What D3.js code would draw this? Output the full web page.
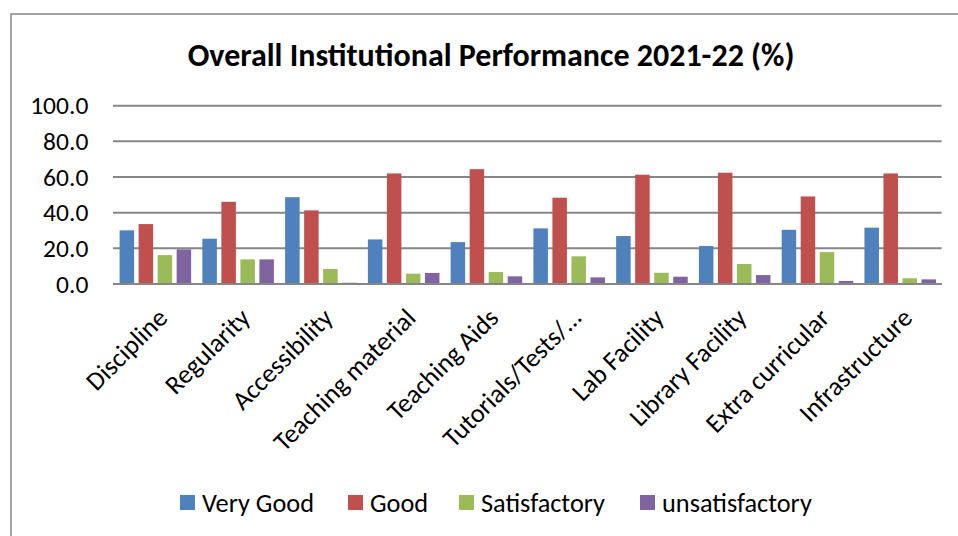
<!DOCTYPE html>
<html lang="en">
<head>
<meta charset="UTF-8">
<title>Overall Institutional Performance 2021-22</title>
<script src="https://d3js.org/d3.v7.min.js"></script>
<style>
    body { margin: 0; background: #fff; }
    svg { display: block; font-family: Carlito, Lato, sans-serif; }
</style>
</head>
<body>
<svg id="chart" width="958" height="536"></svg>
<script>
    const categories = ["Discipline", "Regularity", "Accessibility", "Teaching material", "Teaching Aids",
        "Tutorials/Tests/\u2026", "Lab Facility", "Library Facility", "Extra curricular", "Infrastructure"];
    const seriesNames = ["Very Good", "Good", "Satisfactory", "unsatisfactory"];
    const veryGood = [30.1, 25.4, 48.7, 25.0, 23.5, 31.2, 26.9, 21.3, 30.4, 31.6];
    const good = [33.6, 46.1, 41.3, 62.0, 64.4, 48.4, 61.3, 62.4, 49.1, 62.0];
    const satisfactory = [16.2, 13.8, 8.4, 5.8, 6.7, 15.5, 6.3, 11.2, 17.9, 3.2];
    const unsatisfactory = [19.4, 13.8, 0.7, 6.2, 4.3, 3.7, 4.1, 5.0, 1.7, 2.6];
    const yTicks = [0, 20, 40, 60, 80, 100];
    const colors = ["#4F81BD", "#C0504D", "#9BBB59", "#8064A2"];

    const seriesValues = [veryGood, good, satisfactory, unsatisfactory];
    const rows = categories.map((c, i) => ({
        cat: c,
        vals: seriesNames.map((s, j) => ({ series: s, value: seriesValues[j][i] }))
    }));

    const svg = d3.select("#chart");
    const plot = { left: 114, right: 941.6, top: 105.7, bottom: 284 };
    const labelSize = 25.5;
    const catSize = 26.3;

    // outer frame (runs off the right and bottom edge)
    svg.append("rect")
        .attr("x", 11).attr("y", 14)
        .attr("width", 1000).attr("height", 600)
        .attr("fill", "none")
        .attr("stroke", "#868686")
        .attr("stroke-width", 1.5);

    svg.append("text")
        .attr("x", 491).attr("y", 66)
        .attr("text-anchor", "middle")
        .attr("font-size", 32)
        .attr("font-weight", "bold")
        .text("Overall Institutional Performance 2021-22 (%)");

    const x0 = d3.scaleBand()
        .domain(categories)
        .range([plot.left, plot.right]);

    const x1 = d3.scaleBand()
        .domain(seriesNames)
        .range([5.6, x0.bandwidth() - 5.6])
        .paddingInner(0.237);

    const y = d3.scaleLinear()
        .domain([0, 100])
        .range([plot.bottom, plot.top]);

    // gridlines
    svg.append("g")
        .selectAll("line")
        .data(yTicks)
        .join("line")
        .attr("x1", plot.left - 1).attr("x2", plot.right)
        .attr("y1", d => y(d)).attr("y2", d => y(d))
        .attr("stroke", "#868686")
        .attr("stroke-width", 2);

    // y axis labels
    const yAxis = svg.append("g")
        .attr("transform", `translate(${plot.left},0)`)
        .call(d3.axisLeft(y).tickValues(yTicks).tickFormat(d3.format(".1f")).tickSize(0).tickPadding(25.7));
    yAxis.select(".domain").remove();
    yAxis.selectAll("text")
        .attr("font-size", labelSize)
        .attr("font-family", "Carlito, Lato, sans-serif")
        .attr("fill", "#000");

    // bars
    const groups = svg.append("g")
        .selectAll("g")
        .data(rows)
        .join("g")
        .attr("transform", d => `translate(${x0(d.cat)},0)`);

    groups.selectAll("rect")
        .data(d => d.vals)
        .join("rect")
        .attr("x", d => x1(d.series))
        .attr("y", d => y(d.value))
        .attr("width", x1.bandwidth())
        .attr("height", d => y(0) - y(d.value))
        .attr("fill", (d, i) => colors[i]);

    // baseline on top
    svg.append("line")
        .attr("x1", plot.left - 1).attr("x2", plot.right)
        .attr("y1", y(0)).attr("y2", y(0))
        .attr("stroke", "#868686")
        .attr("stroke-width", 2);

    // category labels
    svg.append("g")
        .selectAll("text")
        .data(categories)
        .join("text")
        .attr("transform", d => `translate(${x0(d) + x0.bandwidth() / 2 + 7},${plot.bottom + 29}) rotate(-45)`)
        .attr("text-anchor", "end")
        .attr("dy", "0.35em")
        .attr("font-size", catSize)
        .text(d => d);

    // legend
    const legendX = [180, 348, 459, 640];
    const legend = svg.append("g")
        .selectAll("g")
        .data(seriesNames)
        .join("g")
        .attr("transform", (d, i) => `translate(${legendX[i]},495)`);

    legend.append("rect")
        .attr("width", 15).attr("height", 15)
        .attr("fill", (d, i) => colors[i]);

    legend.append("text")
        .attr("x", 22).attr("y", 8)
        .attr("dy", "0.35em")
        .attr("font-size", catSize)
        .text(d => d);
</script>
</body>
</html>
